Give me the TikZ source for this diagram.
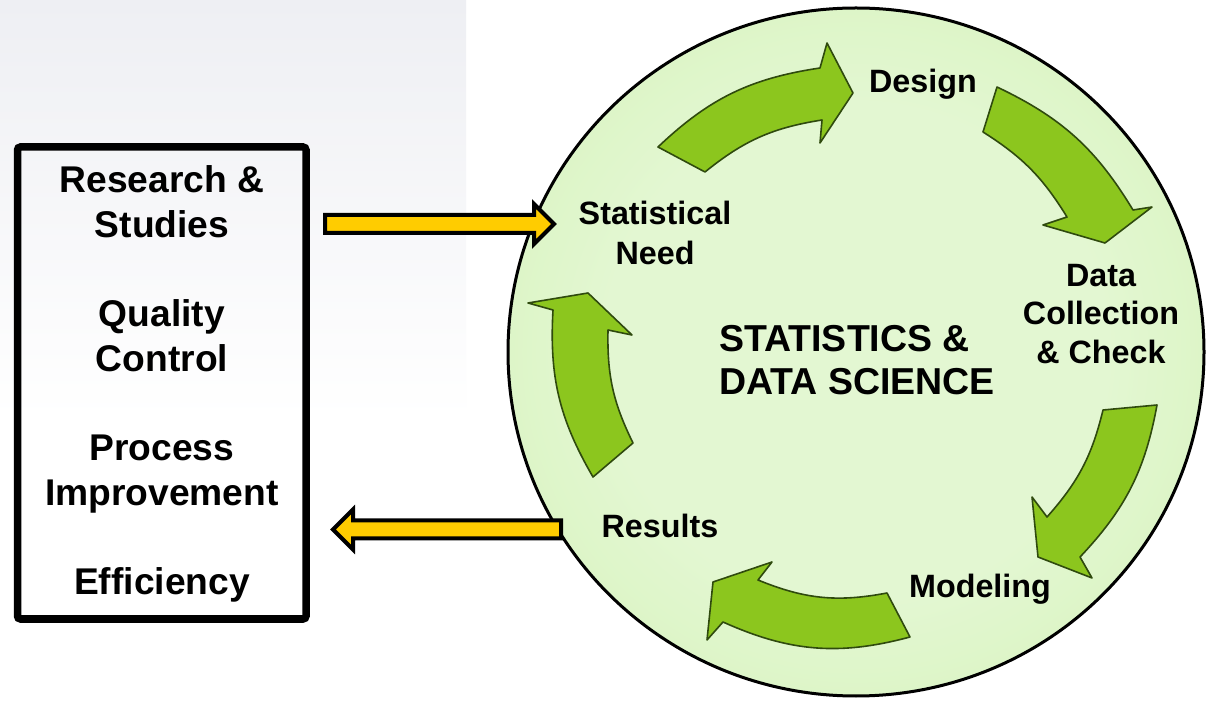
\documentclass[tikz,border=0pt]{standalone}
\usepackage{fontspec}
\setmainfont{Liberation Sans}
\usetikzlibrary{shapes.geometric,calc}
\definecolor{bgtop}{HTML}{EEEFF3}
\definecolor{cin}{HTML}{E3F7D2}
\definecolor{cout}{HTML}{C8EFA2}
\definecolor{agreen}{HTML}{8CC61E}
\definecolor{aedge}{HTML}{2F4A0E}
\definecolor{ayellow}{HTML}{FFCC00}
\pgfdeclareradialshading{ringshade}{\pgfpoint{0bp}{0bp}}{color(0bp)=(cin); color(18bp)=(cin); color(50bp)=(cout)}
\newcommand\boxfont{\fontsize{37.2}{44.7}\selectfont\bfseries}
\newcommand\stepfont{\fontsize{32.3}{40}\selectfont\bfseries}
\newcommand\datafont{\fontsize{32.3}{38.3}\selectfont\bfseries}
\newcommand\titlefont{\fontsize{37.5}{43.5}\selectfont\bfseries}
% TO, BO, BBO, TIP, BBI, BI, TI, outer bend, inner bend
\newcommand\greenarrow[9]{\filldraw[garrow] #1 to[bend left=#8] #2 -- #3 -- #4 -- #5 -- #6 to[bend right=#9] #7 -- cycle;}
\begin{document}
\begin{tikzpicture}[x=1pt,y=1pt,
  garrow/.style={fill=agreen, draw=aedge, line width=1.6pt, line join=round},
  yarrow/.style={fill=ayellow, draw=black, line width=4pt, line join=miter},
  lbl/.style={inner sep=0pt, anchor=base}]
\useasboundingbox (0,0) rectangle (1208,702);
\fill[white] (0,0) rectangle (1208,702);
\fill[top color=bgtop, bottom color=white] (0,282) rectangle (466,702);
% big circle
\node[ellipse, draw=black, line width=3pt, shade, shading=ringshade,
      minimum width=696, minimum height=688, inner sep=0pt] (ring) at (856,350) {};
% green cycle arrows
\greenarrow{(658,555)}{(820,634)}{(827,659)}{(853,609)}{(820,559)}{(822,582)}{(705,530)}{17.5}{15}
\greenarrow{(997,615)}{(1133,492)}{(1152,495)}{(1105,459)}{(1043,477)}{(1067,485)}{(983,570)}{16.7}{13}
\greenarrow{(1157,297)}{(1080,145)}{(1092,124)}{(1038,145)}{(1032,205)}{(1047,185)}{(1103,292)}{16.5}{14}
\greenarrow{(910,65)}{(723,80)}{(707,62)}{(713,120)}{(772,140)}{(758,122)}{(887,109)}{19.6}{16.5}
\greenarrow{(593,225)}{(553,392)}{(528,399)}{(588,409)}{(632,367)}{(608,372)}{(633,259)}{16.7}{13.7}
% labels in the circle
\node[lbl, font=\stepfont] (need) at (655,477) {\begin{tabular}[t]{@{}c@{}}Statistical\\ Need\end{tabular}};
\node[lbl, font=\stepfont] (design) at (923,609) {Design};
\node[lbl, font=\datafont] (data) at (1101,415.3) {\begin{tabular}[t]{@{}c@{}}Data\\ Collection\\ \& Check\end{tabular}};
\node[lbl, anchor=base west, font=\titlefont] (title) at (719,350.5) {\begin{tabular}[t]{@{}l@{}}STATISTICS \&\\ DATA SCIENCE\end{tabular}};
\node[lbl, font=\stepfont] (results) at (660,164) {Results};
\node[lbl, font=\stepfont] (modeling) at (980,104) {Modeling};
% left box
\node[draw=black, line width=7.5pt, rounded corners=3pt, minimum width=288.5, minimum height=472, inner sep=0pt] (box) at (161.75,319) {};
\node[lbl, font=\boxfont] (uses) at (162,509.3) {\begin{tabular}[t]{@{}c@{}}Research \&\\ Studies\\ \\ Quality\\ Control\\ \\ Process\\ Improvement\\ \\ Efficiency\end{tabular}};
% yellow block arrows
\coordinate (inTail) at (325,478);
\coordinate (outTail) at (561,172.5);
\begin{scope}[shift={(inTail)}]
  \draw[yarrow] (0,9) -- (209,9) -- (209,20) -- (229,0) -- (209,-20) -- (209,-9) -- (0,-9) -- cycle;
\end{scope}
\begin{scope}[shift={(outTail)}, rotate=180]
  \draw[yarrow] (0,9) -- (208,9) -- (208,20) -- (228,0) -- (208,-20) -- (208,-9) -- (0,-9) -- cycle;
\end{scope}
\end{tikzpicture}
\end{document}
